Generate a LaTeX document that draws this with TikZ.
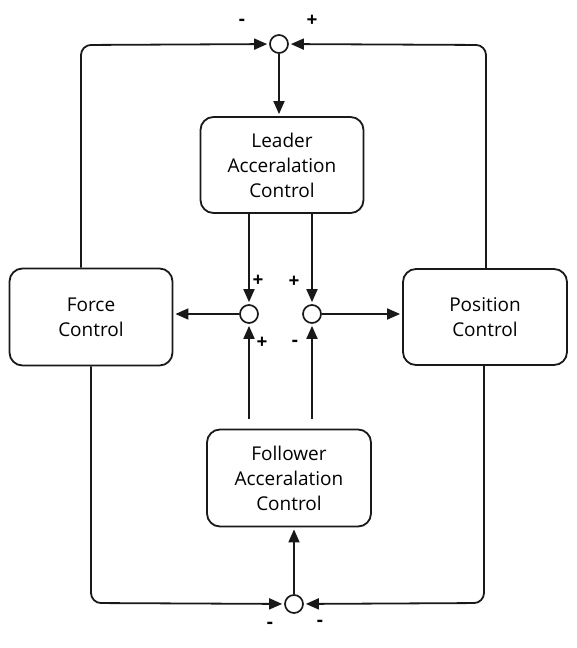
\documentclass[tikz,border=0pt]{standalone}
\usepackage{fontspec}
\setmainfont{Open Sans}
\usetikzlibrary{arrows.meta}
\begin{document}
\begin{tikzpicture}[x=1pt,y=-1pt,
  blk/.style={draw=black!90, line width=1.8pt, rounded corners=13pt, align=center,
    font=\fontsize{19}{25}\selectfont, inner sep=0pt},
  sumc/.style={circle, draw=black!90, line width=1.7pt, minimum size=18pt, inner sep=0pt},
  conn/.style={draw=black!90, line width=1.8pt, rounded corners=10pt,
    -{Triangle[length=13pt,width=11pt]}, shorten >=2pt},
  sgn/.style={font=\fontsize{19}{19}\selectfont\bfseries, inner sep=0pt}
]
\useasboundingbox (0,0) rectangle (576,648);
% blocks
\node[blk, minimum width=163pt, minimum height=96pt] (leader) at (282,165) {Leader\\Acceralation\\Control};
\node[blk, minimum width=163pt, minimum height=97pt] (force) at (91,317) {Force\\Control};
\node[blk, minimum width=164pt, minimum height=96pt] (position) at (485,317) {Position\\Control};
\node[blk, minimum width=164pt, minimum height=97pt] (follower) at (289,478) {Follower\\Acceralation\\Control};
% summing junctions
\node[sumc] (ctop) at (279,44) {};
\node[sumc] (cl) at (249,314) {};
\node[sumc] (cr) at (312,314) {};
\node[sumc] (cbot) at (294,604) {};
% corner coordinates
\coordinate (ftl) at (81,45);
\coordinate (ptr) at (486,45);
\coordinate (fbl) at (91,603);
\coordinate (pbr) at (484,603);
% connectors
\draw[conn] (ctop) -- (ctop |- leader.north);
\draw[conn] (leader.south -| cl) -- (cl);
\draw[conn] (leader.south -| cr) -- (cr);
\draw[conn] ([yshift=10pt]follower.north -| cl) -- (cl);
\draw[conn] ([yshift=10pt]follower.north -| cr) -- (cr);
\draw[conn] (cl) -- (cl -| force.east);
\draw[conn] (cr) -- (cr -| position.west);
\draw[conn] (cbot) -- (cbot |- follower.south);
\draw[conn] (ftl |- force.north) -- (ftl) -- (ctop);
\draw[conn] (ptr |- position.north) -- (ptr) -- (ctop);
\draw[conn] (fbl |- force.south) -- (fbl) -- (cbot);
\draw[conn] (pbr |- position.south) -- (pbr) -- (cbot);
% signs
\node[sgn] (s1) at (242,22) {-};
\node[sgn] (s2) at (312,21) {+};
\node[sgn] (s3) at (258,281) {+};
\node[sgn] (s4) at (294,282) {+};
\node[sgn] (s5) at (262,343) {+};
\node[sgn] (s6) at (295,343) {-};
\node[sgn] (s7) at (270,625) {-};
\node[sgn] (s8) at (320,623) {-};
\end{tikzpicture}
\end{document}
